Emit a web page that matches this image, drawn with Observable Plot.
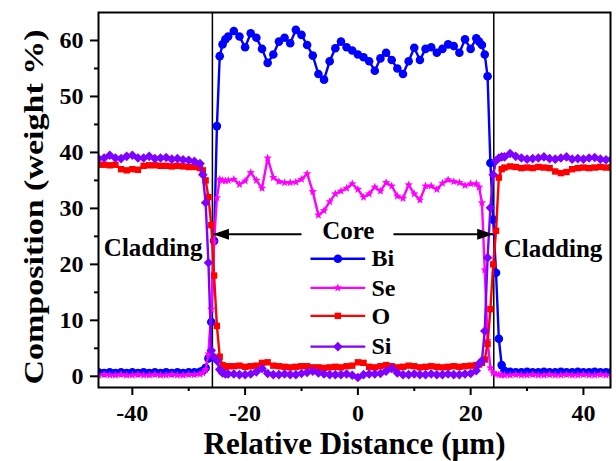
<!DOCTYPE html>
<html><head><meta charset="utf-8">
<script src="https://cdn.jsdelivr.net/npm/d3@7"></script>
<script src="https://cdn.jsdelivr.net/npm/@observablehq/plot@0.6"></script>
<style>
html,body{margin:0;padding:0;background:#fff;}
</style></head><body><div id="chart"></div>
<script>
// Relative distance (µm) sample positions
const distance = [-46,-45,-44,-43,-42,-41,-40,-39,-38,-37,-36,-35,-34,-33,-32,-31,-30,-29,-28,
 -27.5,-27,-26.5,-26,-25.5,-25,-24.5,-24,-23.5,-23,
 -22,-21,-20,-19,-18,-17,-16,-15,-14,-13,-12,-11,-10,-9,-8,-7,-6,-5,-4,-3,-2,-1,0,1,2,3,4,5,6,7,8,9,10,11,12,13,14,15,16,17,18,19,20,21,
 21.5,22,22.5,23,23.5,24,24.5,25,25.5,
 26,27,28,29,30,31,32,33,34,35,36,37,38,39,40,41,42,43,44,45];

const bi = [0.7,0.6,0.7,0.6,0.7,0.6,0.7,0.6,0.7,0.6,0.7,0.6,0.7,0.6,0.7,0.6,0.7,0.7,0.8,
 1.0,1.5,3.2,9.7,24.2,44.7,57.2,59.3,60.2,60.7,
 61.7,60.7,58.8,61.3,60.5,58.5,56.0,57.5,59.8,60.5,59.5,61.9,61.0,59.2,57.3,54.0,53.0,56.3,58.6,59.8,58.8,58.2,57.5,57.0,56.3,54.6,56.8,57.8,56.5,55.0,54.0,56.3,58.7,56.5,58.5,58.8,57.8,58.5,59.3,59.0,57.8,60.2,58.5,60.4,
 59.8,59.2,57.5,53.6,38.1,28.0,18.5,6.7,2.0,
 1.0,0.8,0.7,0.7,0.8,0.7,0.7,0.8,0.7,0.7,0.8,0.7,0.7,0.8,0.7,0.7,0.8,0.7,0.7,0.8];

const se = [0.2,0.3,0.2,0.2,0.3,0.2,0.2,0.3,0.2,0.2,0.3,0.2,0.2,0.3,0.2,0.2,0.3,0.3,0.4,
 0.6,1.2,4.0,12.0,24.0,31.9,35.2,35.0,34.9,35.0,
 35.2,34.3,34.9,36.4,35.0,33.6,39.0,35.5,34.8,34.6,34.6,34.7,35.2,36.2,33.0,28.8,29.6,31.2,32.6,33.1,33.6,34.4,33.4,32.0,32.6,33.8,33.1,34.6,34.0,32.2,31.8,34.2,32.6,31.5,34.0,34.0,33.4,34.5,35.1,34.8,34.6,34.1,34.4,34.4,
 33.8,31.0,19.0,6.4,1.5,0.6,0.4,0.3,0.2,
 0.2,0.2,0.3,0.2,0.2,0.3,0.2,0.2,0.3,0.2,0.2,0.3,0.2,0.2,0.3,0.2,0.2,0.3,0.2,0.2];

const o = [37.8,37.8,37.7,37.8,37.0,36.8,37.0,36.9,37.6,37.7,37.7,37.6,37.6,37.5,37.6,37.5,37.4,37.4,37.2,
 36.8,35.0,32.0,27.0,18.0,9.0,3.5,2.0,1.7,1.8,
 1.8,1.9,1.7,1.8,1.9,2.4,2.5,1.9,1.8,1.7,1.6,1.7,1.8,1.8,1.6,1.6,1.5,1.6,1.7,1.6,1.8,1.9,2.5,2.4,1.7,1.6,1.8,2.0,1.8,1.6,1.7,1.9,1.8,1.6,1.7,1.8,1.7,1.6,1.7,1.8,1.7,1.8,1.9,2.0,
 2.1,2.4,3.0,5.8,12.0,20.0,26.0,35.5,37.0,
 37.3,37.5,37.4,37.2,37.3,37.2,37.4,37.3,37.2,36.6,36.3,36.5,37.0,37.2,37.3,37.2,37.3,37.4,37.3,37.3];

const si = [38.9,39.0,39.5,39.0,38.9,39.3,39.5,39.0,39.0,39.3,38.9,39.0,39.1,38.8,38.9,38.7,38.6,38.4,38.0,
 36.0,31.0,20.3,4.6,3.4,2.8,1.2,0.6,0.4,0.4,
 0.4,0.3,0.3,0.4,0.8,1.4,0.5,0.3,0.3,0.4,0.3,0.3,0.5,0.7,0.9,0.6,0.4,0.3,0.3,0.3,0.4,0.2,-0.2,0.3,0.4,0.4,0.5,0.9,1.4,0.6,0.3,0.3,0.4,0.3,0.3,0.4,0.3,0.3,0.4,0.3,0.3,0.4,0.5,1.0,
 2.2,2.8,8.1,21.2,30.1,36.0,38.5,39.0,39.2,
 39.2,39.8,39.3,39.0,38.8,38.9,39.0,39.2,38.9,38.8,39.0,39.2,38.8,38.9,38.8,39.0,39.1,38.8,38.7,38.8];

const seriesNames = ["Bi", "Se", "O", "Si"];
const xTicks = [-40, -20, 0, 20, 40];
const xMinorTicks = [-30, -10, 10, 30];
const yTicks = [0, 10, 20, 30, 40, 50, 60];
const yMinorTicks = [5, 15, 25, 35, 45, 55];
const boundaries = [-25.8, 24.1];
const regionLabels = ["Cladding", "Core", "Cladding"];
const xTitle = "Relative Distance (µm)";
const yTitle = "Composition (weight %)";

// ---- styles ----
const colors = {Bi: "#0000ff", Se: "#ff00ff", O: "#ff0000", Si: "#7f00ff"};
const starSym = {draw(ctx) {
  const R = 4.4, r = 1.9;
  for (let k = 0; k < 10; k++) {
    const a = -Math.PI / 2 + k * Math.PI / 5, rr = k % 2 ? r : R;
    const px = rr * Math.cos(a), py = rr * Math.sin(a);
    k ? ctx.lineTo(px, py) : ctx.moveTo(px, py);
  }
  ctx.closePath();
}};
const squareSym = {draw(ctx) { ctx.moveTo(-3.2, -3.2); ctx.lineTo(3.2, -3.2); ctx.lineTo(3.2, 3.2); ctx.lineTo(-3.2, 3.2); ctx.closePath(); }};
const diamondSym = {draw(ctx) { ctx.moveTo(0, -4.8); ctx.lineTo(4.8, 0); ctx.lineTo(0, 4.8); ctx.lineTo(-4.8, 0); ctx.closePath(); }};
const symbols = {Bi: "circle", Se: starSym, O: squareSym, Si: diamondSym};
const radius = {Bi: 4.3, Se: 3, O: 3, Si: 3};
const leftHead = {draw(ctx) { ctx.moveTo(0, 0); ctx.lineTo(16, -5.5); ctx.lineTo(16, 5.5); ctx.closePath(); }};
const rightHead = {draw(ctx) { ctx.moveTo(0, 0); ctx.lineTo(-16, -5.5); ctx.lineTo(-16, 5.5); ctx.closePath(); }};

const values = {Bi: bi, Se: se, O: o, Si: si};
const tables = {};
for (const s of seriesNames) tables[s] = distance.map((x, i) => ({x, y: values[s][i]}));

// annotation placement (data coordinates)
const regionPos = [{x: -36.3, y: 22.9}, {x: -1.7, y: 26.0}, {x: 34.6, y: 22.8}];
const arrowSpecs = [{x1: -10.0, x2: -25.7, y: 25.4, head: leftHead}, {x1: 6.3, x2: 24.0, y: 25.4, head: rightHead}];
const legendX1 = -8.4, legendX2 = 1.3, legendTextX = 2.4;
const legendY = [21.0, 15.8, 10.8, 5.3];
const legendRows = seriesNames.map((s, i) => ({s, y: legendY[i]}));

const font = "'Liberation Serif','Times New Roman',serif";
const marks = [
  Plot.axisX({ticks: xTicks, tickSize: 8, tickPadding: 8, strokeWidth: 2, fontSize: 24, fontWeight: "bold", tickFormat: d => String(d), label: null}),
  Plot.axisX({ticks: xMinorTicks, tickSize: 4, strokeWidth: 2, tickFormat: () => "", label: null}),
  Plot.axisY({ticks: yTicks, tickSize: 8, tickPadding: 7, strokeWidth: 2, fontSize: 24, fontWeight: "bold", tickFormat: d => String(d), label: null}),
  Plot.axisY({ticks: yMinorTicks, tickSize: 4, strokeWidth: 2, tickFormat: () => "", label: null}),
  Plot.ruleX(boundaries, {stroke: "black", strokeWidth: 1.5})
];
for (const s of seriesNames) {
  marks.push(Plot.line(tables[s], {x: "x", y: "y", stroke: colors[s], strokeWidth: 2.4, clip: true}));
  marks.push(Plot.dot(tables[s], {x: "x", y: "y", symbol: () => symbols[s], r: radius[s], fill: colors[s], stroke: "none", clip: true}));
}
marks.push(
  Plot.text(regionLabels, {x: (d, i) => regionPos[i].x, y: (d, i) => regionPos[i].y, text: d => d, fontSize: 25, fontWeight: "bold", fill: "black"}),
  Plot.link(arrowSpecs, {x1: "x1", x2: "x2", y1: "y", y2: "y", stroke: "black", strokeWidth: 2}),
  Plot.dot(arrowSpecs, {x: "x2", y: "y", symbol: d => d.head, r: 5, fill: "black", stroke: "none"}),
  Plot.link(legendRows, {x1: () => legendX1, x2: () => legendX2, y1: "y", y2: "y", stroke: d => colors[d.s], strokeWidth: 2.4}),
  Plot.dot(legendRows, {x: () => (legendX1 + legendX2) / 2, y: "y", symbol: d => symbols[d.s], r: d => radius[d.s], fill: d => colors[d.s], stroke: "none"}),
  Plot.text(legendRows, {x: () => legendTextX, y: "y", text: "s", textAnchor: "start", fontSize: 24, fontWeight: "bold", fill: "black"}),
  Plot.frame({stroke: "black", strokeWidth: 2}),
  Plot.text([xTitle], {frameAnchor: "bottom", textAnchor: "middle", lineAnchor: "middle", dy: 57, text: d => d, fontSize: 31, fontWeight: "bold", fill: "black"}),
  Plot.text([yTitle], {frameAnchor: "left", textAnchor: "middle", lineAnchor: "middle", dx: -64, dy: 7, rotate: -90, text: d => d, fontSize: 27, fontWeight: "bold", fill: "black"})
);

const chart = Plot.plot({
  width: 616, height: 461,
  marginLeft: 98, marginRight: 6, marginTop: 12, marginBottom: 74,
  x: {domain: [-46, 44.8]},
  y: {domain: [-2, 65]},
  symbol: {type: "identity"},
  r: {type: "identity"},
  color: {type: "identity"},
  style: {fontFamily: font, fontWeight: "bold", background: "#fff", color: "#000", overflow: "visible"},
  marks
});
document.getElementById("chart").appendChild(chart);
// stretch the y-axis title along its length to match the reference's proportions
d3.select(chart).selectAll("text").filter(function () { return this.textContent === yTitle; })
  .attr("transform", function () { return (this.getAttribute("transform") || "") + " scale(1.26,1)"; });
</script></body></html>
